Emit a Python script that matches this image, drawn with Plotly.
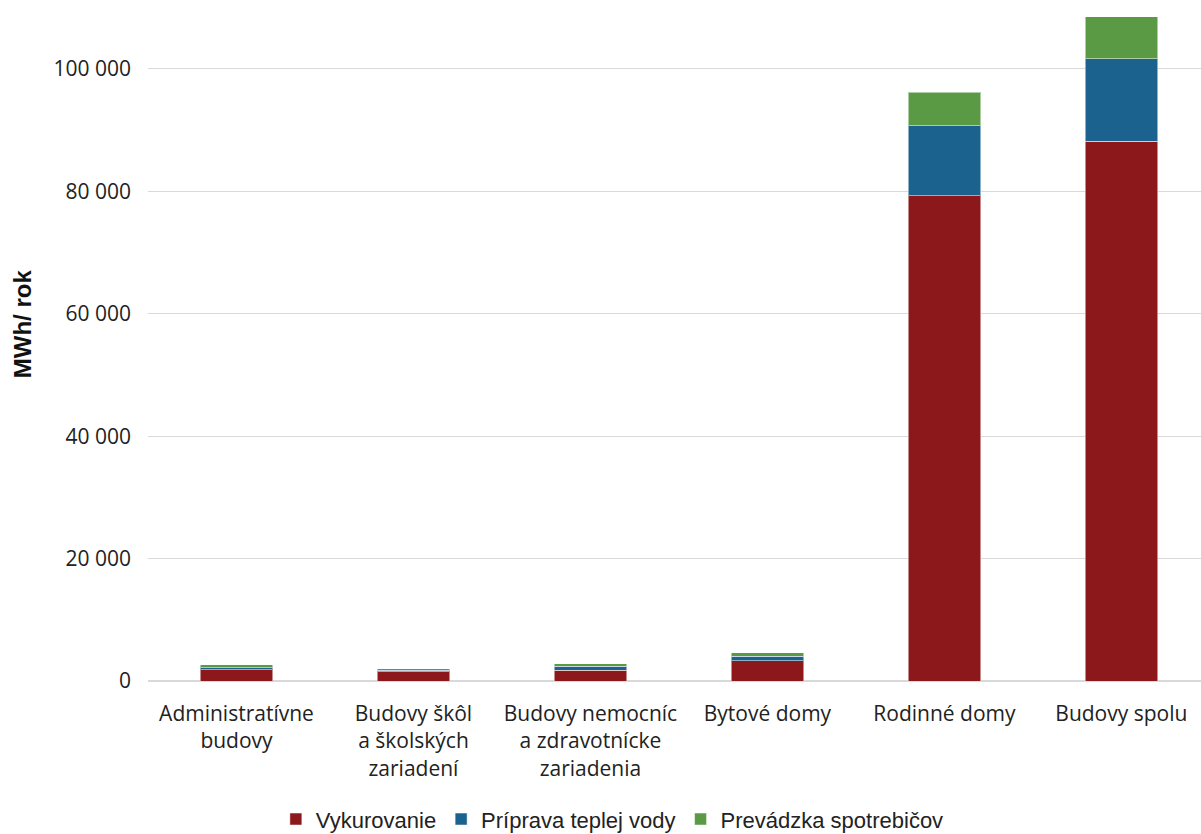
import plotly.graph_objects as go

categories = [
    "Administratívne<br>budovy",
    "Budovy škôl<br>a školských<br>zariadení",
    "Budovy nemocníc<br>a zdravotnícke<br>zariadenia",
    "Bytové domy",
    "Rodinné domy",
    "Budovy spolu",
]
vykurovanie = [1800, 1550, 1720, 3350, 79300, 88200]
priprava_vody = [380, 210, 700, 700, 11400, 13450]
prevadzka = [440, 230, 390, 560, 5500, 6850]
y_ticks = [0, 20000, 40000, 60000, 80000, 100000]
y_tick_labels = ["0", "20 000", "40 000", "60 000", "80 000", "100 000"]
y_title = "MWh/ rok"

series = [
    ("Vykurovanie", vykurovanie, "#8c181b"),
    ("Príprava teplej vody", priprava_vody, "#1b638e"),
    ("Prevádzka spotrebičov", prevadzka, "#5b9a44"),
]

fig = go.Figure()
for name, vals, col in series:
    fig.add_trace(go.Bar(
        x=list(range(len(categories))), y=vals, name=name,
        marker=dict(color=col, line=dict(color="rgba(255,255,255,0.5)", width=1)),
        width=0.41,
    ))

fig.add_annotation(
    text="<b>" + y_title + "</b>", textangle=-90,
    xref="paper", yref="paper", x=-0.1196, y=0.524,
    xanchor="center", yanchor="middle", showarrow=False,
    font=dict(size=24, family="Liberation Sans, Arial", color="#111111"),
)

fig.update_layout(
    barmode="stack",
    width=1201, height=834,
    margin=dict(l=148, r=0, t=0, b=153, autoexpand=False),
    plot_bgcolor="white", paper_bgcolor="white",
    font=dict(family="Open Sans, Liberation Sans, Arial, sans-serif", size=21, color="#222222"),
    xaxis=dict(
        range=[-0.5, 5.45], tickmode="array",
        tickvals=list(range(len(categories))), ticktext=categories,
        showgrid=False, showline=False, zeroline=False, ticks="",
        tickfont=dict(size=21), ticklabelstandoff=18, automargin=False,
    ),
    yaxis=dict(
        range=[0, 111270], tickvals=y_ticks, ticktext=y_tick_labels,
        showgrid=True, gridcolor="#d9d9d9", gridwidth=1,
        zeroline=True, zerolinecolor="#d9d9d9", zerolinewidth=1.5,
        ticks="", ticklabelstandoff=16, automargin=False,
        tickfont=dict(size=21),
    ),
    legend=dict(
        orientation="h", x=0.441, xanchor="center", y=-0.203, yanchor="middle",
        font=dict(size=22, family="Liberation Sans, Arial"),
        itemwidth=30, traceorder="normal",
    ),
    showlegend=True,
)

fig.write_html("out.html")
